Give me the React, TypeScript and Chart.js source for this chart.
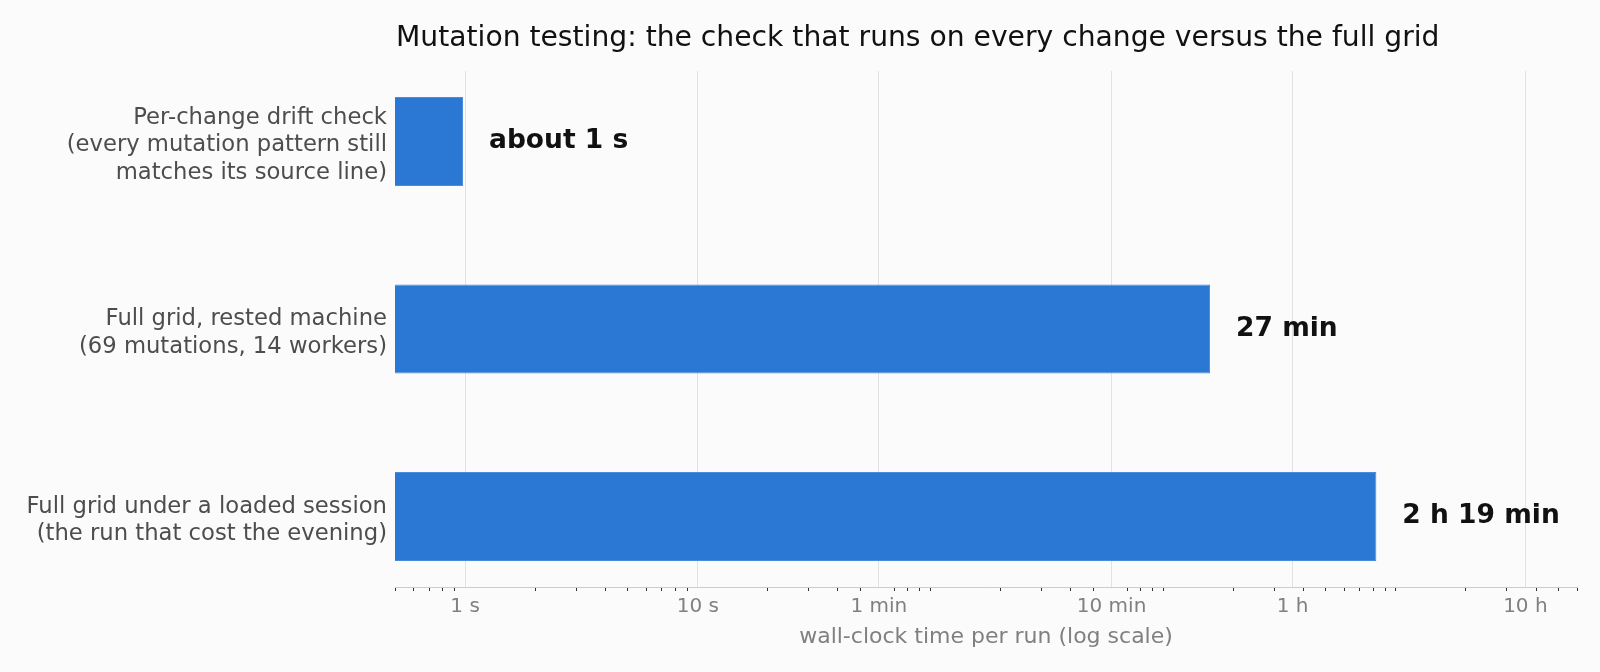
import React, { useEffect, useRef } from "react";
import { Chart, registerables } from "chart.js";

Chart.register(...registerables);

const categories: string[][] = [
  ["Per-change drift check", "(every mutation pattern still", "matches its source line)"],
  ["Full grid, rested machine", "(69 mutations, 14 workers)"],
  ["Full grid under a loaded session", "(the run that cost the evening)"],
];
const secondsPerRun = [0.98, 1590, 8240];
const valueLabels = ["about 1 s", "27 min", "2 h 19 min"];
const majorTickValues = [1, 10, 60, 600, 3600, 36000];
const majorTickLabels = ["1 s", "10 s", "1 min", "10 min", "1 h", "10 h"];
const minorTickValues = [
  0.5, 0.6, 0.7, 0.8, 0.9,
  2, 3, 4, 5, 6, 7, 8, 9,
  20, 30, 40, 50, 70, 80, 90,
  100, 200, 300, 400, 500, 700, 800, 900,
  1000, 2000, 3000, 4000, 5000, 6000, 7000, 8000, 9000,
  10000, 20000, 30000, 40000, 50000, 60000,
];
const titleText = "Mutation testing: the check that runs on every change versus the full grid";
const xAxisTitle = "wall-clock time per run (log scale)";

const FONT = "'DejaVu Sans', 'Liberation Sans', sans-serif";
const Y_MIN = -0.376;
const Y_MAX = 2.376;

export default function App() {
  const ref = useRef<HTMLCanvasElement | null>(null);

  useEffect(() => {
    if (!ref.current) return;
    const allTicks = Array.from(new Set([...minorTickValues, ...majorTickValues])).sort((a, b) => a - b);
    const isMajor = (v: number) => majorTickValues.some((m) => Math.abs(m - v) < 1e-9 * Math.max(1, m));

    const bgPlugin = {
      id: "bg",
      beforeDraw(chart: any) {
        const { ctx } = chart;
        ctx.save();
        ctx.fillStyle = "#fbfbfb";
        ctx.fillRect(0, 0, chart.width, chart.height);
        ctx.restore();
      },
    };

    const textPlugin = {
      id: "texts",
      afterDraw(chart: any) {
        const { ctx, chartArea } = chart;
        ctx.save();
        ctx.fillStyle = "#111111";
        ctx.font = `28.2px ${FONT}`;
        ctx.textAlign = "left";
        ctx.textBaseline = "middle";
        ctx.fillText(titleText, chartArea.left + 1, 38.5);

        const meta = chart.getDatasetMeta(0);
        const xs = chart.scales.x;
        ctx.font = `bold 26.5px ${FONT}`;
        ctx.fillStyle = "#111111";
        meta.data.forEach((bar: any, i: number) => {
          const px = xs.getPixelForValue(secondsPerRun[i]);
          ctx.fillText(valueLabels[i], px + 26, bar.y);
        });
        ctx.restore();
      },
    };

    const chart = new Chart(ref.current, {
      type: "bar",
      data: {
        datasets: [
          {
            data: secondsPerRun.map((v, i) => ({ x: v, y: i })),
            backgroundColor: "#2b78d4",
            borderColor: "#4a8cdb",
            borderWidth: 1,
            barPercentage: 0.475,
            categoryPercentage: 1,
          },
        ],
      },
      options: {
        animation: false,
        responsive: true,
        maintainAspectRatio: false,
        indexAxis: "y",
        layout: { padding: { top: 71, right: 23, left: 0, bottom: 0 } },
        plugins: {
          legend: { display: false },
          tooltip: { enabled: false },
          title: { display: false },
        },
        scales: {
          x: {
            type: "logarithmic",
            min: 0.5,
            max: 60000,
            afterBuildTicks(scale: any) {
              scale.ticks = allTicks.map((v) => ({ value: v, major: isMajor(v) }));
            },
            afterFit(scale: any) {
              scale.height = 85;
            },
            border: { display: true, color: "#cccccc", width: 1 },
            grid: {
              drawTicks: true,
              tickLength: 4,
              color: (ctx: any) => (ctx.tick && isMajor(ctx.tick.value) ? "#e2e2e2" : "rgba(0,0,0,0)"),
              tickColor: (ctx: any) => (ctx.tick && isMajor(ctx.tick.value) ? "rgba(0,0,0,0)" : "#333333"),
              lineWidth: 1,
            },
            ticks: {
              autoSkip: false,
              maxRotation: 0,
              minRotation: 0,
              padding: 4,
              color: "#808080",
              font: { family: FONT, size: 20 },
              callback: (value: any) => {
                const idx = majorTickValues.findIndex((m) => Math.abs(m - Number(value)) < 1e-9 * Math.max(1, m));
                return idx >= 0 ? majorTickLabels[idx] : "";
              },
            },
            title: {
              display: true,
              text: xAxisTitle,
              color: "#808080",
              font: { family: FONT, size: 22 },
              padding: { top: 4, bottom: 22 },
            },
          },
          y: {
            type: "linear",
            reverse: true,
            offset: false,
            bounds: "data",
            min: Y_MIN,
            max: Y_MAX,
            afterBuildTicks(scale: any) {
              scale.ticks = categories.map((_, i) => ({ value: i }));
              scale.min = Y_MIN;
              scale.max = Y_MAX;
            },
            afterFit(scale: any) {
              scale.width = 395;
            },
            border: { display: false },
            grid: { display: false, drawTicks: false, offset: false },
            ticks: {
              padding: 8,
              labelOffset: 4,
              color: "#4d4d4d",
              font: { family: FONT, size: 22.7, lineHeight: 1.214 },
              callback: (value: any) => categories[Math.round(Number(value))] ?? "",
            },
          },
        },
      },
      plugins: [bgPlugin, textPlugin],
    } as any);

    return () => chart.destroy();
  }, []);

  return (
    <div style={{ position: "fixed", left: 0, top: 0, width: 1600, height: 672, background: "#fbfbfb" }}>
      <canvas ref={ref} />
    </div>
  );
}
